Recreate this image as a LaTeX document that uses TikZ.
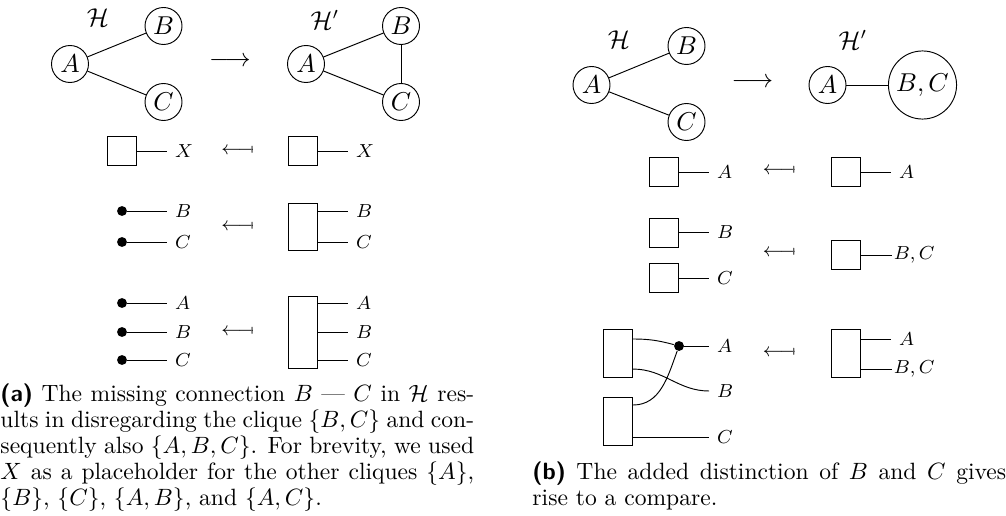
\documentclass[tikz,border=0pt]{standalone}
\usepackage{amsmath,amssymb}
\usepackage{tikz}
\newcommand{\lmapsfrom}{\mathrel{\longleftarrow\mkern-2.5mu\mapstochar}}

\begin{document}
\begin{tikzpicture}[
    x=0.4243pt, y=0.4243pt,
    vtx/.style={draw, circle, minimum size=15.7pt, inner sep=0.5pt, font=\fontsize{10.5}{12.6}\selectfont},
    bigvtx/.style={vtx, minimum size=28.9pt},
    hname/.style={font=\fontsize{10.5}{12.6}\selectfont},
    fac/.style={draw, minimum width=12.3pt, minimum height=12.3pt, inner sep=0pt},
    dot/.style={circle, fill, inner sep=0pt, minimum size=4.2pt},
    lbl/.style={font=\fontsize{8.5}{10}\selectfont, anchor=west, inner sep=3.2pt},
    lbltight/.style={lbl, inner sep=0.6pt},
    maparr/.style={font=\fontsize{8.5}{10}\selectfont},
    captext/.style={font=\fontsize{10}{11}\selectfont, text width=201pt, align=justify, inner sep=0pt, anchor=north west},
]
\useasboundingbox (0,0) rectangle (1006,-516);

% (a) hypergraphs H and H'
\node[hname] (ha) at (98,-18) {$\mathcal{H}$};
\node[vtx] (a1) at (70,-64) {$A$};
\node[vtx] (b1) at (163.5,-26) {$B$};
\node[vtx] (c1) at (163.5,-102) {$C$};
\draw (a1) -- (b1);
\draw (a1) -- (c1);
\node[hname] (to1) at (230,-62) {$\longrightarrow$};
\node[hname] (hb) at (325,-20) {$\mathcal{H}'$};
\node[vtx] (a2) at (306,-64) {$A$};
\node[vtx] (b2) at (401,-26) {$B$};
\node[vtx] (c2) at (401,-102) {$C$};
\draw (a2) -- (b2);
\draw (a2) -- (c2);
\draw (b2) -- (c2);

% (a) placeholder cliques
\node[fac] (f1) at (122,-151) {};
\node[lbl] (x1) at (167,-151) {$X$};
\draw (f1) -- (x1);
\node[maparr] (m1) at (236,-151) {$\lmapsfrom$};
\node[fac] (f2) at (303,-151) {};
\node[lbl] (x2) at (348,-151) {$X$};
\draw (f2) -- (x2);

% (a) clique {B,C}
\node[dot] (d1) at (122,-211) {};
\node[dot] (d2) at (122,-242) {};
\node[lbl] (lb1) at (167,-211) {$B$};
\node[lbl] (lc1) at (167,-242) {$C$};
\draw (d1) -- (lb1);
\draw (d2) -- (lc1);
\node[maparr] (m2) at (236,-227) {$\lmapsfrom$};
\node[fac, minimum height=20pt] (r2) at (303,-227) {};
\node[lbl] (lb2) at (348,-211) {$B$};
\node[lbl] (lc2) at (348,-242) {$C$};
\draw (lb2 -| r2.east) -- (lb2);
\draw (lc2 -| r2.east) -- (lc2);

% (a) clique {A,B,C}
\node[dot] (d3) at (122,-303) {};
\node[dot] (d4) at (122,-332) {};
\node[dot] (d5) at (122,-360) {};
\node[lbl] (la3) at (167,-303) {$A$};
\node[lbl] (lb3) at (167,-332) {$B$};
\node[lbl] (lc3) at (167,-360) {$C$};
\draw (d3) -- (la3);
\draw (d4) -- (lb3);
\draw (d5) -- (lc3);
\node[maparr] (m3) at (236,-332) {$\lmapsfrom$};
\node[fac, minimum height=30.6pt] (r3) at (303,-332.5) {};
\node[lbl] (la4) at (348,-303) {$A$};
\node[lbl] (lb4) at (348,-332) {$B$};
\node[lbl] (lc4) at (348,-360) {$C$};
\draw (la4 -| r3.east) -- (la4);
\draw (lb4 -| r3.east) -- (lb4);
\draw (lc4 -| r3.east) -- (lc4);

\node[captext] (capa) at (0,-383.3) {\textsf{\textbf{(a)}} The missing connection $B$~---~$C$ in $\mathcal{H}$ res-\linebreak ults in disregarding the clique $\{B,C\}$ and con-\linebreak sequently also $\{A,B,C\}$. For brevity, we used\linebreak $X$ as a placeholder for the other cliques $\{A\}$,\linebreak $\{B\}$, $\{C\}$, $\{A,B\}$, and $\{A,C\}$.};

% (b) hypergraphs H and H'
\node[hname] (ka) at (619,-40) {$\mathcal{H}$};
\node[vtx] (kA) at (591.5,-85) {$A$};
\node[vtx] (kB) at (686.5,-46) {$B$};
\node[vtx] (kC) at (686.5,-122) {$C$};
\draw (kA) -- (kB);
\draw (kA) -- (kC);
\node[hname] (to2) at (752.5,-83) {$\longrightarrow$};
\node[hname] (kb) at (853,-40) {$\mathcal{H}'$};
\node[vtx] (mA) at (827.5,-85) {$A$};
\node[bigvtx] (mBC) at (922.5,-85) {$B,C$};
\draw (mA) -- (mBC);

% (b) clique {A}
\node[fac] (s1) at (663.5,-172) {};
\node[lbl] (sa1) at (709,-172) {$A$};
\draw (s1) -- (sa1);
\node[maparr] (n1) at (777.5,-171) {$\lmapsfrom$};
\node[fac] (s2) at (845.5,-172) {};
\node[lbl] (sa2) at (891,-172) {$A$};
\draw (s2) -- (sa2);

% (b) cliques {B} and {C}
\node[fac] (s3) at (663.5,-232.5) {};
\node[lbl] (sb1) at (709,-232.5) {$B$};
\draw (s3) -- (sb1);
\node[fac] (s4) at (663.5,-278) {};
\node[lbl] (sc1) at (709,-278) {$C$};
\draw (s4) -- (sc1);
\node[maparr] (n2) at (777.5,-253) {$\lmapsfrom$};
\node[fac] (s5) at (845.5,-255) {};
\node[lbltight] (sbc1) at (892,-255) {$B,C$};
\draw (s5) -- (sbc1);

% (b) compare
\node[fac, minimum height=20.4pt] (ub) at (618,-353.5) {};
\node[fac, minimum height=20.4pt] (lb) at (618,-421.5) {};
\node[dot] (dt) at (679,-346) {};
\node[lbl] (ta) at (709,-346) {$A$};
\node[lbl] (tb) at (709,-391) {$B$};
\node[lbl] (tc) at (709,-437) {$C$};
\draw ([yshift=6.15pt]ub.east) to[out=0,in=165] (dt);
\draw ([yshift=-6.6pt]ub.east) to[out=0,in=180] (tb);
\draw ([yshift=7pt]lb.east) to[out=0,in=250] (dt);
\draw (dt) -- (ta);
\draw (tc -| lb.east) -- (tc);
\node[maparr] (n3) at (777.5,-353) {$\lmapsfrom$};
\node[fac, minimum height=20.4pt] (rb) at (845.5,-353.5) {};
\node[lbl] (ua) at (891,-339) {$A$};
\node[lbltight] (ubc) at (892,-369) {$B,C$};
\draw (ua -| rb.east) -- (ua);
\draw (ubc -| rb.east) -- (ubc);

\node[captext] (capb) at (532,-461.3) {\textsf{\textbf{(b)}} The added distinction of $B$ and $C$ gives\linebreak rise to a compare.};
\end{tikzpicture}
\end{document}
